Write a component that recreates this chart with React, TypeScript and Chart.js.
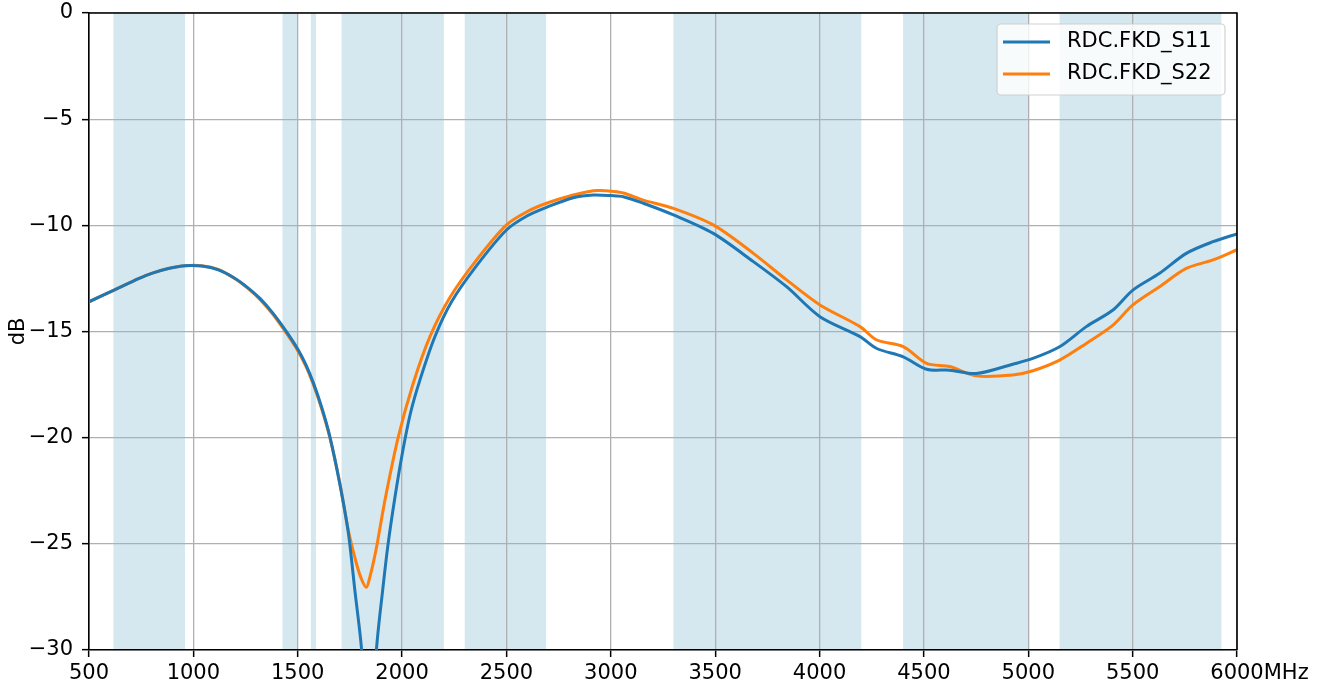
import React, { useEffect, useRef } from "react";
import { Chart, registerables } from "chart.js";

Chart.register(...registerables);

const freqS11 = [500, 620, 740, 800, 880, 960, 1040, 1120, 1200, 1260, 1320, 1380, 1440, 1500, 1540, 1575, 1615, 1654, 1702, 1742, 1775, 1806, 1842, 1877, 1909, 1933, 1965, 2000, 2040, 2085, 2157, 2237, 2357, 2500, 2600, 2692, 2820, 2916, 3003, 3060, 3156, 3300, 3491, 3683, 3842, 4002, 4194, 4274, 4401, 4513, 4623, 4751, 4926, 5022, 5150, 5278, 5406, 5501, 5629, 5757, 5885, 6000];
const s11 = [-13.6, -13.05, -12.5, -12.26, -12.03, -11.9, -11.92, -12.1, -12.5, -12.93, -13.45, -14.12, -14.92, -15.82, -16.58, -17.42, -18.58, -19.95, -22.2, -24.45, -27.3, -30.0, -36.0, -30.0, -27.0, -25.0, -22.85, -20.8, -18.85, -17.3, -15.25, -13.6, -11.9, -10.22, -9.55, -9.15, -8.7, -8.57, -8.6, -8.65, -8.96, -9.51, -10.38, -11.71, -12.89, -14.3, -15.24, -15.8, -16.19, -16.78, -16.82, -16.98, -16.54, -16.27, -15.72, -14.77, -13.99, -13.05, -12.26, -11.32, -10.77, -10.4];

const freqS22 = [500, 620, 740, 800, 880, 960, 1040, 1120, 1200, 1260, 1320, 1380, 1440, 1500, 1540, 1575, 1615, 1654, 1702, 1742, 1782, 1805, 1829, 1846, 1862, 1878, 1918, 1981, 2053, 2133, 2229, 2357, 2500, 2600, 2692, 2820, 2916, 2948, 3003, 3060, 3156, 3300, 3491, 3683, 3842, 4002, 4194, 4274, 4401, 4513, 4623, 4751, 4926, 5022, 5150, 5278, 5406, 5501, 5629, 5757, 5885, 6000];
const s22 = [-13.6, -13.05, -12.5, -12.26, -12.03, -11.9, -11.9, -12.08, -12.52, -12.96, -13.5, -14.18, -15.0, -15.9, -16.65, -17.5, -18.65, -20.0, -22.15, -24.35, -25.95, -26.65, -27.05, -26.55, -25.9, -25.14, -22.94, -20.0, -17.45, -15.25, -13.4, -11.63, -9.98, -9.35, -8.96, -8.57, -8.37, -8.36, -8.4, -8.48, -8.81, -9.2, -9.98, -11.32, -12.57, -13.75, -14.77, -15.4, -15.71, -16.5, -16.65, -17.09, -17.05, -16.85, -16.35, -15.56, -14.7, -13.75, -12.89, -12.03, -11.63, -11.15];

const bandStarts = [617, 1427, 1563, 1710, 2300, 3300, 4400, 5150];
const bandEnds = [960, 1500, 1587, 2200, 2690, 4200, 5000, 5925];

const seriesNames = ["RDC.FKD_S11", "RDC.FKD_S22"];
const seriesColors = ["#1f77b4", "#ff7f0e"];
const xUnit = "MHz";
const yTitle = "dB";

const FONT = "'DejaVu Sans', sans-serif";
const FS = 21;

const decorPlugin = {
  id: "decor",
  beforeDraw(chart: any) {
    const { ctx, chartArea, scales } = chart;
    ctx.save();
    ctx.fillStyle = "rgb(213,232,240)";
    for (let i = 0; i < bandStarts.length; i++) {
      const a = scales.x.getPixelForValue(bandStarts[i]);
      const b = scales.x.getPixelForValue(bandEnds[i]);
      ctx.fillRect(a, chartArea.top, b - a, chartArea.bottom - chartArea.top);
    }
    ctx.restore();
  },
  afterDatasetsDraw(chart: any) {
    const { ctx, chartArea } = chart;
    ctx.save();
    ctx.strokeStyle = "#000";
    ctx.lineWidth = 1.6;
    ctx.beginPath();
    ctx.moveTo(chartArea.left, chartArea.top);
    ctx.lineTo(chartArea.right, chartArea.top);
    ctx.lineTo(chartArea.right, chartArea.bottom);
    ctx.stroke();

    const w = 228, h = 71;
    const lx = chartArea.right - 12 - w;
    const ly = chartArea.top + 11;
    const r = 4;
    ctx.beginPath();
    ctx.moveTo(lx + r, ly);
    ctx.lineTo(lx + w - r, ly);
    ctx.arcTo(lx + w, ly, lx + w, ly + r, r);
    ctx.lineTo(lx + w, ly + h - r);
    ctx.arcTo(lx + w, ly + h, lx + w - r, ly + h, r);
    ctx.lineTo(lx + r, ly + h);
    ctx.arcTo(lx, ly + h, lx, ly + h - r, r);
    ctx.lineTo(lx, ly + r);
    ctx.arcTo(lx, ly, lx + r, ly, r);
    ctx.closePath();
    ctx.fillStyle = "rgba(255,255,255,0.8)";
    ctx.fill();
    ctx.strokeStyle = "rgba(204,204,204,0.9)";
    ctx.lineWidth = 1.2;
    ctx.stroke();
    ctx.font = `${FS}px ${FONT}`;
    ctx.textBaseline = "middle";
    ctx.textAlign = "left";
    for (let i = 0; i < seriesNames.length; i++) {
      const yy = ly + 18 + i * 32;
      ctx.strokeStyle = seriesColors[i];
      ctx.lineWidth = 3;
      ctx.beginPath();
      ctx.moveTo(lx + 6, yy);
      ctx.lineTo(lx + 53, yy);
      ctx.stroke();
      ctx.fillStyle = "#000";
      ctx.fillText(seriesNames[i], lx + 70, yy);
    }
    ctx.restore();
  },
  afterDraw(chart: any) {
    const { ctx, chartArea, scales } = chart;
    ctx.save();
    ctx.font = `${FS}px ${FONT}`;
    ctx.fillStyle = "#000";
    const lastX = scales.x.getPixelForValue(6000);
    const w6000 = ctx.measureText("6000").width;
    ctx.textAlign = "left";
    ctx.textBaseline = "middle";
    ctx.fillText(xUnit, lastX + w6000 / 2, chartArea.bottom + 7 + 4 + (FS * 1.2) / 2);
    ctx.translate(19, (chartArea.top + chartArea.bottom) / 2);
    ctx.rotate(-Math.PI / 2);
    ctx.textAlign = "center";
    ctx.fillText(yTitle, 0, 0);
    ctx.restore();
  },
};

export default function App() {
  const ref = useRef<HTMLCanvasElement | null>(null);
  useEffect(() => {
    if (!ref.current) return;
    const chart = new Chart(ref.current, {
      type: "line",
      data: {
        datasets: [
          {
            label: seriesNames[0],
            data: freqS11.map((f, i) => ({ x: f, y: s11[i] })),
            borderColor: seriesColors[0],
            borderWidth: 3,
            pointRadius: 0,
            tension: 0.3,
            fill: false,
          },
          {
            label: seriesNames[1],
            data: freqS22.map((f, i) => ({ x: f, y: s22[i] })),
            borderColor: seriesColors[1],
            borderWidth: 3,
            pointRadius: 0,
            tension: 0.3,
            fill: false,
          },
        ],
      },
      options: {
        responsive: false,
        animation: false,
        events: [],
        layout: { padding: { top: 13, right: 90, left: 0, bottom: 0 } },
        plugins: { legend: { display: false }, tooltip: { enabled: false } },
        scales: {
          x: {
            type: "linear",
            min: 500,
            max: 6000,
            afterFit: (s: any) => { s.height = 38; s.paddingLeft = 0; s.paddingRight = 0; },
            ticks: {
              stepSize: 500,
              autoSkip: false,
              maxRotation: 0,
              padding: 4,
              color: "#000",
              font: { family: FONT, size: FS },
              callback: (v: any) => String(v),
            },
            grid: { color: "#b0b0b0", lineWidth: 1.3, tickColor: "#000", tickLength: 7, tickWidth: 1.5 },
            border: { color: "#000", width: 1.6 },
          },
          y: {
            type: "linear",
            min: -30,
            max: 0,
            afterFit: (s: any) => { s.width = 89; s.paddingTop = 0; s.paddingBottom = 0; },
            ticks: {
              stepSize: 5,
              padding: 9,
              color: "#000",
              font: { family: FONT, size: FS },
              callback: (v: any) => (v < 0 ? "\u2212" + Math.abs(v) : String(v)),
            },
            grid: { color: "#b0b0b0", lineWidth: 1.3, tickColor: "#000", tickLength: 7, tickWidth: 1.5 },
            border: { color: "#000", width: 1.6 },
          },
        },
      } as any,
      plugins: [decorPlugin],
    });
    return () => chart.destroy();
  }, []);
  return (
    <div style={{ position: "fixed", left: 0, top: 0, width: 1327, height: 688, background: "#fff" }}>
      <canvas ref={ref} width={1327} height={688} style={{ display: "block" }} />
    </div>
  );
}
